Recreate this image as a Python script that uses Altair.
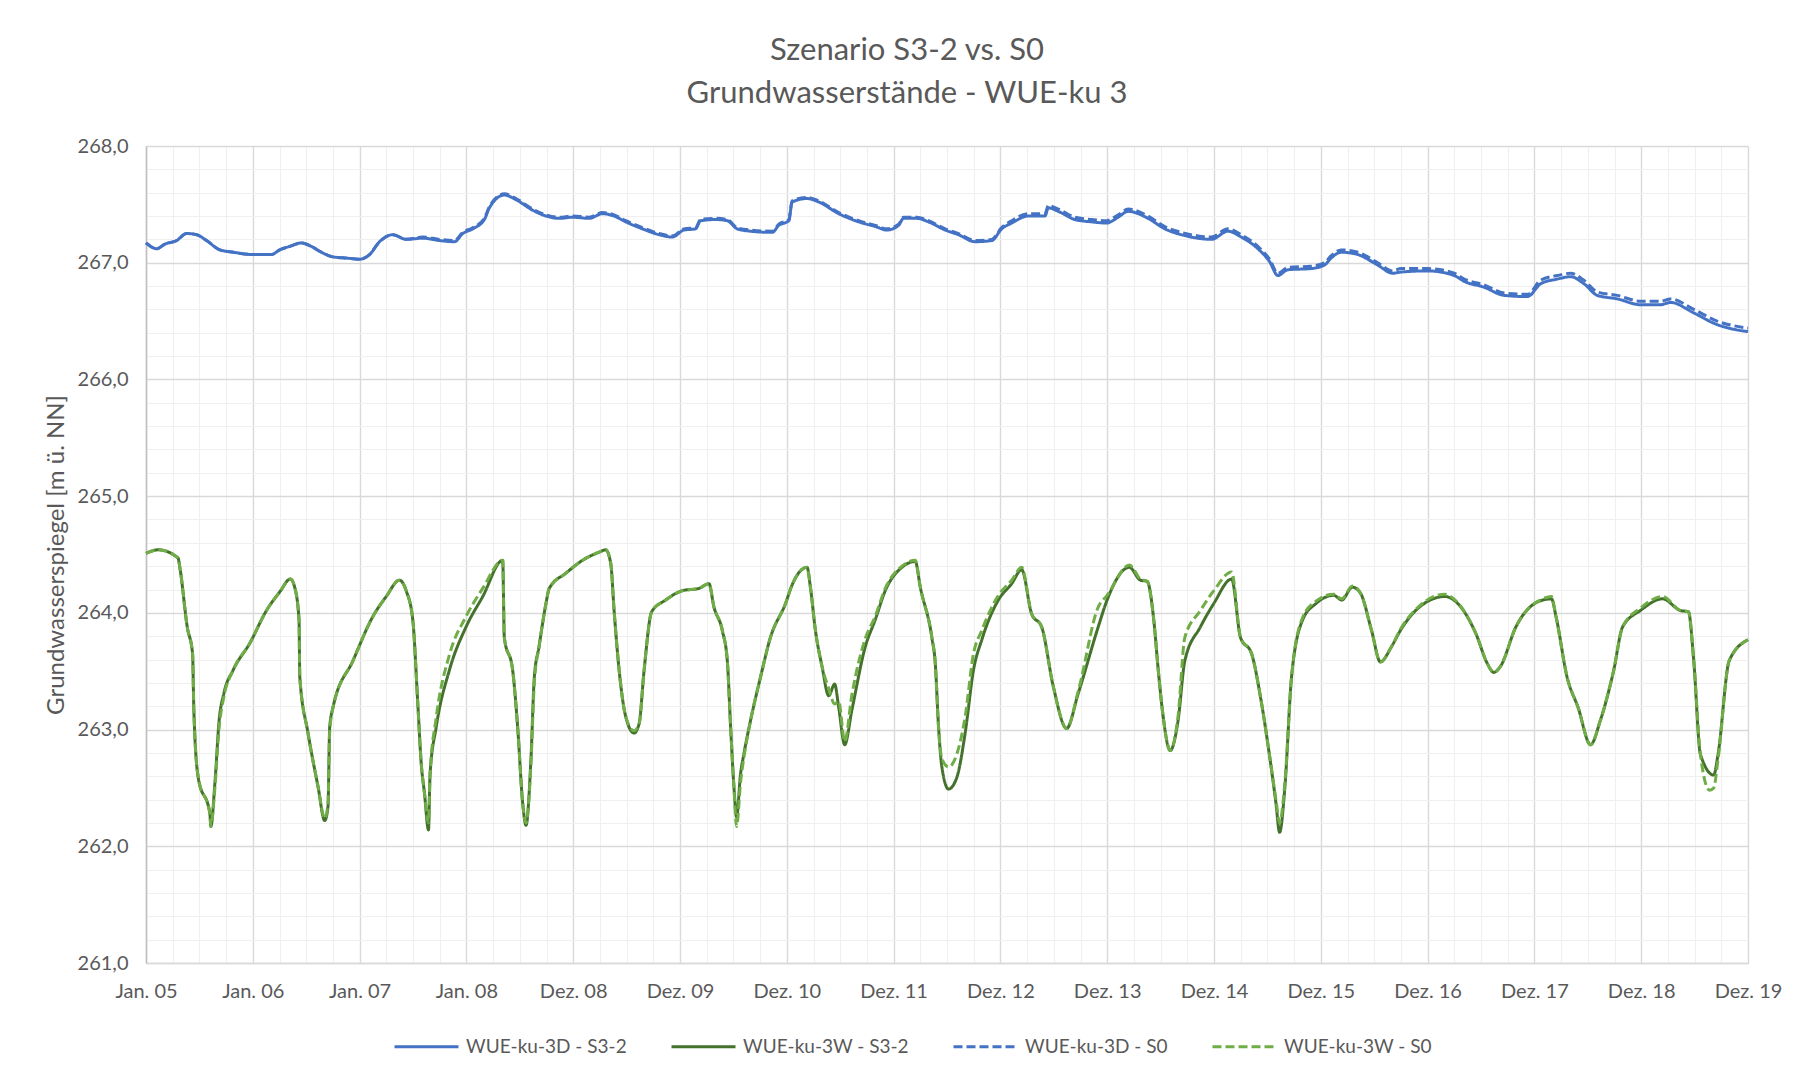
import json
import altair as alt
import pandas as pd

# ---------------- data ----------------
x_labels = ["Jan. 05", "Jan. 06", "Jan. 07", "Jan. 08", "Dez. 08", "Dez. 09",
            "Dez. 10", "Dez. 11", "Dez. 12", "Dez. 13", "Dez. 14", "Dez. 15",
            "Dez. 16", "Dez. 17", "Dez. 18", "Dez. 19"]

series_names = ["WUE-ku-3D - S3-2", "WUE-ku-3W - S3-2",
                "WUE-ku-3D - S0", "WUE-ku-3W - S0"]

# position along the time axis (0 = Jan. 05 ... 15 = Dez. 19)
d_t = [0, 0.1, 0.178, 0.287, 0.38, 0.474, 0.567, 0.692, 0.816, 1.003, 1.174,
       1.252, 1.346, 1.455, 1.548, 1.642, 1.75, 1.875, 2.0, 2.093, 2.187,
       2.311, 2.436, 2.592, 2.748, 2.888, 2.966, 3.059, 3.168, 3.215, 3.355,
       3.464, 3.62, 3.745, 3.869, 3.994, 4.15, 4.274, 4.383, 4.492, 4.648,
       4.804, 4.928, 5.037, 5.146, 5.193, 5.333, 5.442, 5.536, 5.66, 5.863,
       5.925, 6.019, 6.05, 6.19, 6.3, 6.486, 6.673, 6.829, 6.938, 7.047,
       7.093, 7.218, 7.327, 7.483, 7.607, 7.763, 7.919, 8.012, 8.106, 8.262,
       8.417, 8.449, 8.542, 8.698, 8.853, 8.994, 9.103, 9.196, 9.383, 9.539,
       9.694, 9.85, 9.975, 10.131, 10.255, 10.411, 10.52, 10.598, 10.692,
       10.91, 11.034, 11.097, 11.19, 11.346, 11.533, 11.673, 11.751, 12.0,
       12.25, 12.343, 12.53, 12.717, 12.935, 13.059, 13.215, 13.339, 13.464,
       13.589, 13.776, 13.994, 14.18, 14.274, 14.492, 14.71, 14.866, 15.0]

d_s32 = [267.17, 267.12, 267.16, 267.19, 267.25, 267.24, 267.19, 267.11,
         267.09, 267.07, 267.07, 267.11, 267.14, 267.17, 267.14, 267.09,
         267.05, 267.04, 267.03, 267.07, 267.18, 267.24, 267.20, 267.21,
         267.19, 267.18, 267.25, 267.29, 267.37, 267.47, 267.58, 267.54,
         267.45, 267.40, 267.38, 267.39, 267.38, 267.42, 267.40, 267.35,
         267.29, 267.24, 267.22, 267.28, 267.29, 267.36, 267.37, 267.36,
         267.29, 267.27, 267.26, 267.32, 267.36, 267.52, 267.55, 267.52,
         267.42, 267.35, 267.31, 267.28, 267.32, 267.38, 267.38, 267.35,
         267.28, 267.24, 267.18, 267.19, 267.29, 267.34, 267.40, 267.40,
         267.47, 267.44, 267.37, 267.35, 267.34, 267.39, 267.44, 267.38,
         267.29, 267.24, 267.21, 267.20, 267.27, 267.22, 267.12, 267.01,
         266.89, 266.94, 266.95, 266.98, 267.04, 267.09, 267.07, 266.98,
         266.91, 266.92, 266.93, 266.89, 266.84, 266.79, 266.72, 266.71,
         266.82, 266.86, 266.88, 266.82, 266.72, 266.69, 266.64, 266.64,
         266.66, 266.57, 266.47, 266.43, 266.41]

d_s0 = [267.17, 267.12, 267.16, 267.19, 267.25, 267.24, 267.19, 267.11,
        267.09, 267.07, 267.07, 267.11, 267.14, 267.17, 267.14, 267.09,
        267.05, 267.04, 267.03, 267.07, 267.18, 267.24, 267.20, 267.22,
        267.20, 267.19, 267.26, 267.30, 267.38, 267.48, 267.59, 267.55,
        267.46, 267.41, 267.39, 267.40, 267.39, 267.43, 267.41, 267.36,
        267.30, 267.25, 267.23, 267.29, 267.30, 267.37, 267.38, 267.37,
        267.30, 267.28, 267.27, 267.33, 267.37, 267.53, 267.56, 267.53,
        267.43, 267.36, 267.32, 267.29, 267.33, 267.39, 267.39, 267.36,
        267.29, 267.25, 267.19, 267.20, 267.30, 267.36, 267.42, 267.42,
        267.49, 267.46, 267.39, 267.37, 267.36, 267.41, 267.46, 267.40,
        267.31, 267.26, 267.23, 267.22, 267.29, 267.24, 267.14, 267.03,
        266.91, 266.96, 266.97, 267.00, 267.06, 267.11, 267.09, 267.00,
        266.93, 266.95, 266.95, 266.91, 266.86, 266.81, 266.74, 266.73,
        266.85, 266.89, 266.91, 266.85, 266.75, 266.72, 266.67, 266.67,
        266.69, 266.60, 266.50, 266.46, 266.44]

w_s32_t = [0.0, 0.115, 0.30, 0.32, 0.386, 0.436, 0.448, 0.489, 0.598, 0.607,
           0.645, 0.685, 0.729, 0.816, 0.972, 1.128, 1.253, 1.352, 1.392,
           1.433, 1.44, 1.517, 1.611, 1.673, 1.704, 1.72, 1.751, 1.938, 2.125,
           2.249, 2.374, 2.436, 2.498, 2.545, 2.577, 2.608, 2.645, 2.66, 2.717,
           2.841, 2.997, 3.153, 3.34, 3.355, 3.433, 3.48, 3.527, 3.558, 3.604,
           3.636, 3.68, 3.745, 3.776, 3.932, 4.087, 4.243, 4.305, 4.352, 4.383,
           4.43, 4.492, 4.570, 4.617, 4.664, 4.735, 4.866, 5.022, 5.178, 5.271,
           5.318, 5.396, 5.443, 5.474, 5.505, 5.53, 5.567, 5.598, 5.661, 5.754,
           5.847, 5.988, 6.05, 6.19, 6.221, 6.268, 6.33, 6.393, 6.448, 6.486,
           6.542, 6.61, 6.735, 6.828, 6.922, 7.078, 7.203, 7.25, 7.358, 7.39,
           7.421, 7.452, 7.514, 7.592, 7.67, 7.748, 7.826, 7.981, 8.106, 8.199,
           8.293, 8.386, 8.495, 8.62, 8.729, 8.916, 8.999, 9.208, 9.311, 9.374,
           9.436, 9.478, 9.52, 9.59, 9.664, 9.727, 9.873, 9.998, 10.165,
           10.248, 10.352, 10.435, 10.518, 10.58, 10.614, 10.664, 10.726,
           10.83, 10.955, 11.121, 11.196, 11.296, 11.371, 11.475, 11.558,
           11.662, 11.746, 11.912, 12.162, 12.245, 12.453, 12.557, 12.62,
           12.681, 12.827, 13.077, 13.16, 13.202, 13.306, 13.409, 13.526,
           13.618, 13.743, 13.826, 13.992, 14.2, 14.367, 14.442, 14.492,
           14.554, 14.679, 14.72, 14.824, 15.0]

w_s32 = [264.51, 264.54, 264.47, 264.37, 263.88, 263.65, 263.17, 262.59,
         262.28, 262.17, 262.54, 263.08, 263.31, 263.51, 263.74, 264.02,
         264.18, 264.29, 264.22, 263.94, 263.45, 262.97, 262.51, 262.22,
         262.34, 263.02, 263.19, 263.59, 263.97, 264.14, 264.28, 264.19,
         263.94, 263.22, 262.71, 262.45, 262.14, 262.62, 263.02, 263.51,
         263.88, 264.14, 264.45, 263.79, 263.51, 263.02, 262.37, 262.18,
         262.74, 263.45, 263.71, 264.08, 264.21, 264.34, 264.45, 264.52,
         264.54, 264.42, 264.02, 263.51, 263.11, 262.97, 263.05, 263.51,
         264.01, 264.11, 264.19, 264.21, 264.25, 264.05, 263.85, 263.59,
         263.02, 262.51, 262.25, 262.62, 262.79, 263.08, 263.45, 263.79,
         264.08, 264.24, 264.39, 264.22, 263.85, 263.54, 263.29, 263.39,
         263.19, 262.87, 263.17, 263.71, 263.94, 264.19, 264.39, 264.44,
         264.22, 263.79, 263.57, 263.02, 262.68, 262.49, 262.59, 262.97,
         263.51, 263.77, 264.11, 264.25, 264.37, 263.99, 263.88, 263.37,
         263.01, 263.31, 263.88, 264.11, 264.39, 264.28, 264.27, 263.94,
         263.51, 263.14, 262.82, 263.08, 263.59, 263.88, 264.08, 264.29,
         263.79, 263.65, 263.28, 262.79, 262.37, 262.12, 262.51, 263.45,
         263.94, 264.08, 264.15, 264.11, 264.22, 264.17, 263.85, 263.58,
         263.71, 263.85, 264.04, 264.14, 264.11, 263.82, 263.57, 263.49,
         263.54, 263.88, 264.11, 264.12, 263.97, 263.45, 263.19, 262.87,
         263.08, 263.51, 263.88, 264.02, 264.12, 264.02, 264.01, 263.59,
         262.79, 262.61, 262.79, 263.59, 263.77]

w_s0_t = [0.0, 0.115, 0.30, 0.32, 0.386, 0.436, 0.448, 0.489, 0.598, 0.607,
          0.645, 0.685, 0.729, 0.816, 0.972, 1.128, 1.253, 1.352, 1.392,
          1.433, 1.44, 1.517, 1.611, 1.673, 1.704, 1.72, 1.751, 1.938, 2.125,
          2.249, 2.374, 2.436, 2.498, 2.545, 2.577, 2.608, 2.645, 2.66, 2.717,
          2.841, 2.997, 3.153, 3.34, 3.355, 3.433, 3.48, 3.527, 3.558, 3.604,
          3.636, 3.68, 3.745, 3.776, 3.932, 4.087, 4.243, 4.305, 4.352, 4.383,
          4.43, 4.492, 4.570, 4.617, 4.664, 4.735, 4.866, 5.022, 5.178, 5.271,
          5.318, 5.396, 5.443, 5.474, 5.505, 5.53, 5.567, 5.598, 5.661, 5.754,
          5.847, 5.988, 6.05, 6.19, 6.221, 6.268, 6.33, 6.393, 6.448, 6.486,
          6.542, 6.61, 6.735, 6.828, 6.922, 7.078, 7.203, 7.25, 7.358, 7.39,
          7.421, 7.452, 7.514, 7.592, 7.67, 7.748, 7.826, 7.981, 8.106, 8.199,
          8.293, 8.386, 8.495, 8.62, 8.729, 8.916, 8.999, 9.208, 9.311, 9.374,
          9.436, 9.478, 9.52, 9.59, 9.664, 9.727, 9.873, 9.998, 10.165,
          10.248, 10.352, 10.435, 10.518, 10.58, 10.614, 10.664, 10.726,
          10.83, 10.955, 11.121, 11.196, 11.296, 11.371, 11.475, 11.558,
          11.662, 11.746, 11.912, 12.162, 12.245, 12.453, 12.557, 12.62,
          12.681, 12.827, 13.077, 13.16, 13.202, 13.306, 13.409, 13.526,
          13.618, 13.743, 13.826, 13.992, 14.2, 14.367, 14.442, 14.492,
          14.554, 14.64, 14.679, 14.72, 14.824, 15.0]

w_s0 = [264.51, 264.54, 264.47, 264.37, 263.88, 263.65, 263.17, 262.59,
        262.28, 262.17, 262.50, 263.02, 263.28, 263.51, 263.74, 264.02,
        264.18, 264.29, 264.22, 263.94, 263.45, 262.97, 262.51, 262.24,
        262.36, 262.98, 263.19, 263.59, 263.97, 264.14, 264.28, 264.19,
        263.94, 263.22, 262.71, 262.45, 262.20, 262.62, 263.10, 263.64,
        263.97, 264.21, 264.45, 263.79, 263.51, 263.02, 262.37, 262.20,
        262.70, 263.40, 263.71, 264.08, 264.21, 264.34, 264.45, 264.52,
        264.54, 264.42, 264.02, 263.51, 263.11, 262.99, 263.05, 263.51,
        264.01, 264.11, 264.19, 264.21, 264.25, 264.05, 263.85, 263.59,
        263.02, 262.51, 262.17, 262.55, 262.76, 263.08, 263.45, 263.79,
        264.08, 264.24, 264.39, 264.22, 263.85, 263.54, 263.35, 263.22,
        263.24, 262.90, 263.30, 263.78, 263.97, 264.21, 264.40, 264.45,
        264.22, 263.79, 263.57, 263.02, 262.75, 262.68, 262.79, 263.11,
        263.65, 263.85, 264.15, 264.28, 264.39, 263.99, 263.88, 263.37,
        263.01, 263.33, 264.05, 264.15, 264.41, 264.29, 264.27, 263.94,
        263.51, 263.14, 262.82, 263.12, 263.79, 264.02, 264.19, 264.35,
        263.79, 263.65, 263.28, 262.79, 262.40, 262.20, 262.55, 263.45,
        263.96, 264.10, 264.16, 264.12, 264.23, 264.17, 263.85, 263.58,
        263.71, 263.86, 264.05, 264.16, 264.12, 263.82, 263.57, 263.49,
        263.54, 263.88, 264.12, 264.14, 263.97, 263.45, 263.19, 262.87,
        263.08, 263.51, 263.88, 264.04, 264.14, 264.02, 264.01, 263.59,
        262.79, 262.48, 262.50, 262.75, 263.59, 263.77]

series_colors = ["#4472C4", "#44722C", "#4472C4", "#70AD47"]
series_dashes = [[1, 0], [1, 0], [9, 4], [9, 4]]

# ---------------- table ----------------
rows = []
for t, v in zip(d_t, d_s32):
    rows.append({"t": t, "v": v, "series": series_names[0]})
for t, v in zip(w_s32_t, w_s32):
    rows.append({"t": t, "v": v, "series": series_names[1]})
for t, v in zip(d_t, d_s0):
    rows.append({"t": t, "v": v, "series": series_names[2]})
for t, v in zip(w_s0_t, w_s0):
    rows.append({"t": t, "v": v, "series": series_names[3]})
df = pd.DataFrame(rows)

FONT = "Lato"
TXT = "#595959"
MAJOR = "#d9d9d9"
MINOR = "#f0f0f0"

x_grid_values = [i / 4 for i in range(0, 61)]
y_grid_values = [round(261 + i * 0.2, 1) for i in range(0, 36)]

x_label_expr = ("datum.value % 1 === 0 ? " + json.dumps(x_labels) +
                "[datum.value] : ''")
is_major_y = "abs(datum.value - round(datum.value)) < 0.001"
y_label_expr = (is_major_y +
                " ? replace(format(datum.value, '.1f'), '.', ',') : ''")

x_enc = alt.X(
    "t:Q",
    scale=alt.Scale(domain=[0, 15], nice=False, zero=False),
    axis=alt.Axis(
        values=x_grid_values, labelExpr=x_label_expr, title=None,
        ticks=False, labelOverlap=False, labelFlush=False, labelBound=False,
        labelFont=FONT, labelFontSize=20, labelColor=TXT, labelPadding=18,
        domainColor=MAJOR, domainWidth=1.5,
        gridColor={"condition": {"test": "datum.value % 1 === 0",
                                 "value": MAJOR}, "value": MINOR},
        gridWidth={"condition": {"test": "datum.value % 1 === 0",
                                 "value": 1.4}, "value": 1.2},
    ),
)
y_enc = alt.Y(
    "v:Q",
    scale=alt.Scale(domain=[261, 268], nice=False, zero=False),
    axis=alt.Axis(
        values=y_grid_values, labelExpr=y_label_expr,
        title="Grundwasserspiegel [m ü. NN]",
        titleFont=FONT, titleFontSize=24, titleFontWeight="normal",
        titleColor=TXT, titlePadding=9,
        ticks=False, labelOverlap=False, labelBound=False, labelFlush=False,
        labelFont=FONT, labelFontSize=20, labelColor=TXT, labelPadding=18,
        domainColor="#bfbfbf", domainWidth=1.5,
        gridColor={"condition": {"test": is_major_y, "value": MAJOR},
                   "value": MINOR},
        gridWidth={"condition": {"test": is_major_y, "value": 1.4},
                   "value": 1.2},
    ),
)
legend_def = alt.Legend(
    title=None, orient="none", direction="horizontal",
    legendX=247, legendY=867, symbolType="stroke", symbolSize=4096,
    symbolStrokeWidth=3, labelFont=FONT, labelFontSize=19,
    labelColor=TXT, labelOffset=6, columnPadding=38, labelLimit=400,
)
color_enc = alt.Color(
    "series:N",
    scale=alt.Scale(domain=series_names, range=series_colors),
    legend=legend_def,
)
dash_enc = alt.StrokeDash(
    "series:N",
    scale=alt.Scale(domain=series_names, range=series_dashes),
    legend=legend_def,
)

base = alt.Chart(df)
layers = []
for name in series_names:
    layers.append(
        base.transform_filter(alt.datum.series == name)
        .mark_line(strokeWidth=3, interpolate="monotone")
        .encode(x=x_enc, y=y_enc, color=color_enc, strokeDash=dash_enc)
    )

chart = (
    alt.layer(*layers)
    .properties(
        width=1602, height=817,
        autosize=alt.AutoSizeParams(type="none"),
        padding={"left": 138, "top": 138, "right": 42, "bottom": 100},
        background="white",
        title=alt.TitleParams(
            text=["Szenario S3-2 vs. S0", "Grundwasserstände - WUE-ku 3"],
            font=FONT, fontSize=31, fontWeight="normal", color=TXT,
            lineHeight=43, anchor="middle", dx=-40, offset=26,
        ),
    )
    .configure_view(stroke=None)
)

chart.save("out.html", embed_options={"renderer": "svg", "actions": False})
